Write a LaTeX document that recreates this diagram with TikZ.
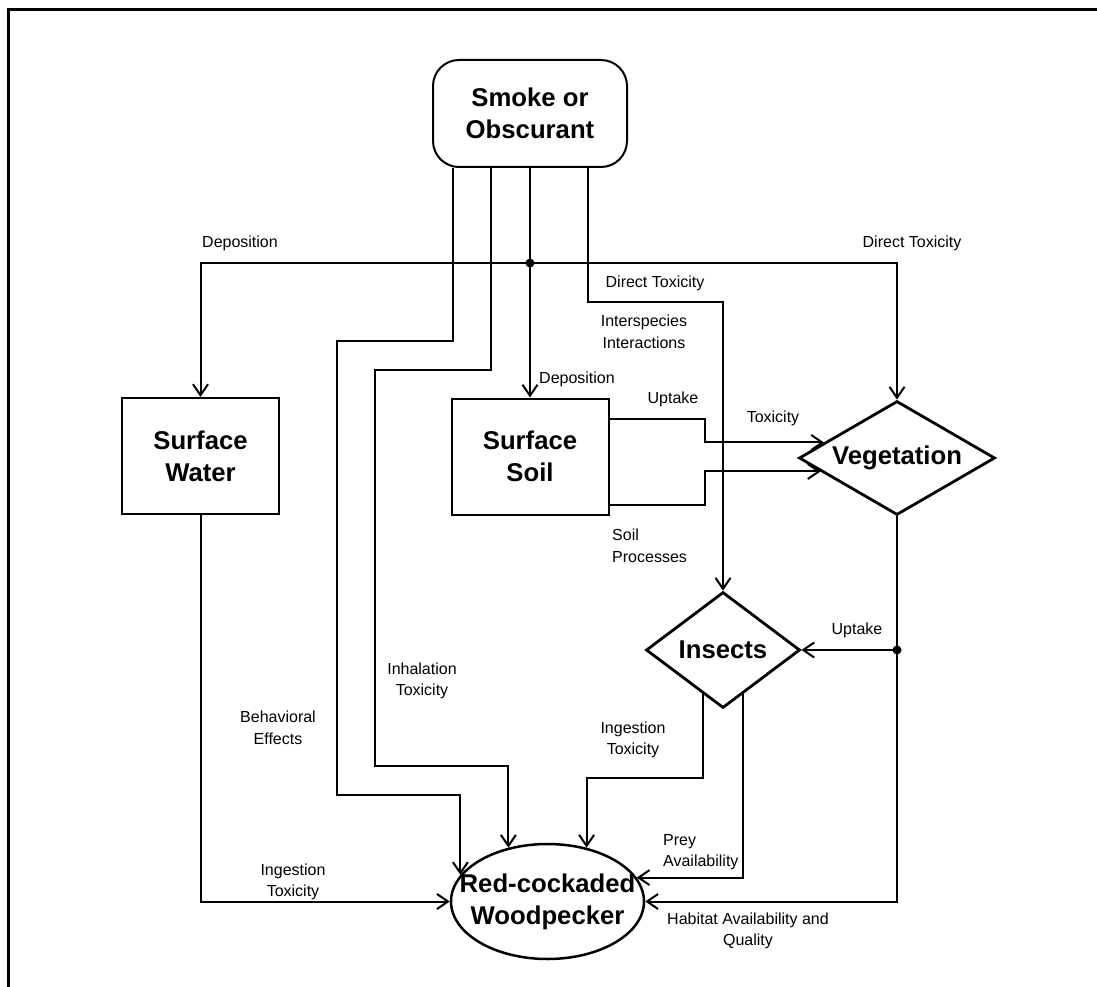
\documentclass[tikz,border=0pt]{standalone}
\usepackage{fontspec}
\setmainfont{Liberation Sans}
\usetikzlibrary{shapes.geometric, arrows.meta}

\begin{document}
\begin{tikzpicture}[x=1pt, y=-1pt,
  link/.style={line width=2pt},
  arr/.style={link, -{Straight Barb[length=11pt, width=15pt, line width=2pt]}},
  big/.style={font=\fontsize{25.7}{32}\selectfont\bfseries, align=center},
  lbl/.style={font=\fontsize{16}{21.5}\selectfont, align=center, inner sep=0pt},
  box/.style={draw, line width=2pt, minimum width=157pt, minimum height=116pt, inner sep=0pt, big},
  diam/.style={draw, diamond, line width=2.8pt, inner sep=0pt, big},
  dot/.style={circle, fill, inner sep=0pt, minimum size=9pt}
]
\useasboundingbox (0,0) rectangle (1097,987);
% page frame
\draw[line width=3pt] (8,987) -- (8,10) -- (1097,10);

% main elements
\node[draw, rounded corners=26pt, line width=2pt, minimum width=194pt,
      minimum height=107pt, inner sep=0pt, big] (smoke) at (530,113.5) {Smoke or\\Obscurant};
\node[box] (water) at (200.5,456) {Surface\\Water};
\node[box] (soil) at (530,456.5) {Surface\\Soil};
\node[diam, aspect=1.72, minimum width=196pt, minimum height=114pt] (veg) at (897,458) {Vegetation};
\node[diam, aspect=1.33, minimum width=154pt, minimum height=116pt] (ins) at (723,650) {Insects};
\node[draw, ellipse, line width=2.5pt, minimum width=193pt, minimum height=115pt,
      inner sep=0pt] (wp) at (547.5,901.5) {};
\node[big, inner sep=0pt] (wptext) at (wp.center) {Red-cockaded\\Woodpecker};

% junction points
\coordinate (dep) at (530,263);
\coordinate (upt) at (897,650);

% deposition from the smoke source
\draw[link] (smoke.south) -- (dep);
\draw[arr] (dep) -- (soil.north);
\draw[arr] (dep) -| (water.north);
\draw[arr] (dep) -| (veg.north);
\node[dot] (depdot) at (dep) {};

% inhalation toxicity pathways
\draw[arr] ([xshift=-77pt]smoke.south) |- (337,341) -- (337,795) -| (wp.163.6);
\draw[arr] ([xshift=-39pt]smoke.south) |- (375,370) -- (375,766) -| (wp.126.3);

% direct toxicity / interspecies interactions to insects
\draw[arr] ([xshift=58pt]smoke.south) |- (723,302) -- (ins.north);

% soil to vegetation
\draw[arr] ([yshift=37.5pt]soil.east) -- (705,419) |- (veg.168.3);
\draw[arr] ([yshift=-48.5pt]soil.east) -- (705,505) |- (veg.-170.2);

% vegetation to insects and woodpecker
\draw[link] (veg.south) -- (upt);
\draw[arr] (upt) -- (ins.east);
\draw[arr] (upt) |- (wp.east);
\node[dot] (uptdot) at (upt) {};

% insects to woodpecker
\draw[arr] (ins.-115) -- ++(0,84) -| (wp.54.6);
\draw[arr] (ins.-66.5) |- (wp.15.2);

% surface water to woodpecker
\draw[arr] (water.south) |- (wp.west);

% pathway labels
\node[lbl] (l1) at (240,243) {Deposition};
\node[lbl] (l2) at (912,243) {Direct Toxicity};
\node[lbl] (l3) at (655,283) {Direct Toxicity};
\node[lbl] (l4) at (644,332) {Interspecies\\Interactions};
\node[lbl] (l5) at (577,379) {Deposition};
\node[lbl] (l6) at (673,399) {Uptake};
\node[lbl] (l7) at (773,418) {Toxicity};
\node[lbl, align=left, anchor=west] (l8) at (612,546) {Soil\\Processes};
\node[lbl] (l9) at (857,630) {Uptake};
\node[lbl] (l10) at (422,681) {Inhalation\\Toxicity};
\node[lbl] (l11) at (278,728) {Behavioral\\Effects};
\node[lbl] (l12) at (633,740) {Ingestion\\Toxicity};
\node[lbl, align=left, anchor=west] (l13) at (663,852) {Prey\\Availability};
\node[lbl] (l14) at (293,882) {Ingestion\\Toxicity};
\node[lbl] (l15) at (748,931) {Habitat Availability and\\Quality};
\end{tikzpicture}
\end{document}
